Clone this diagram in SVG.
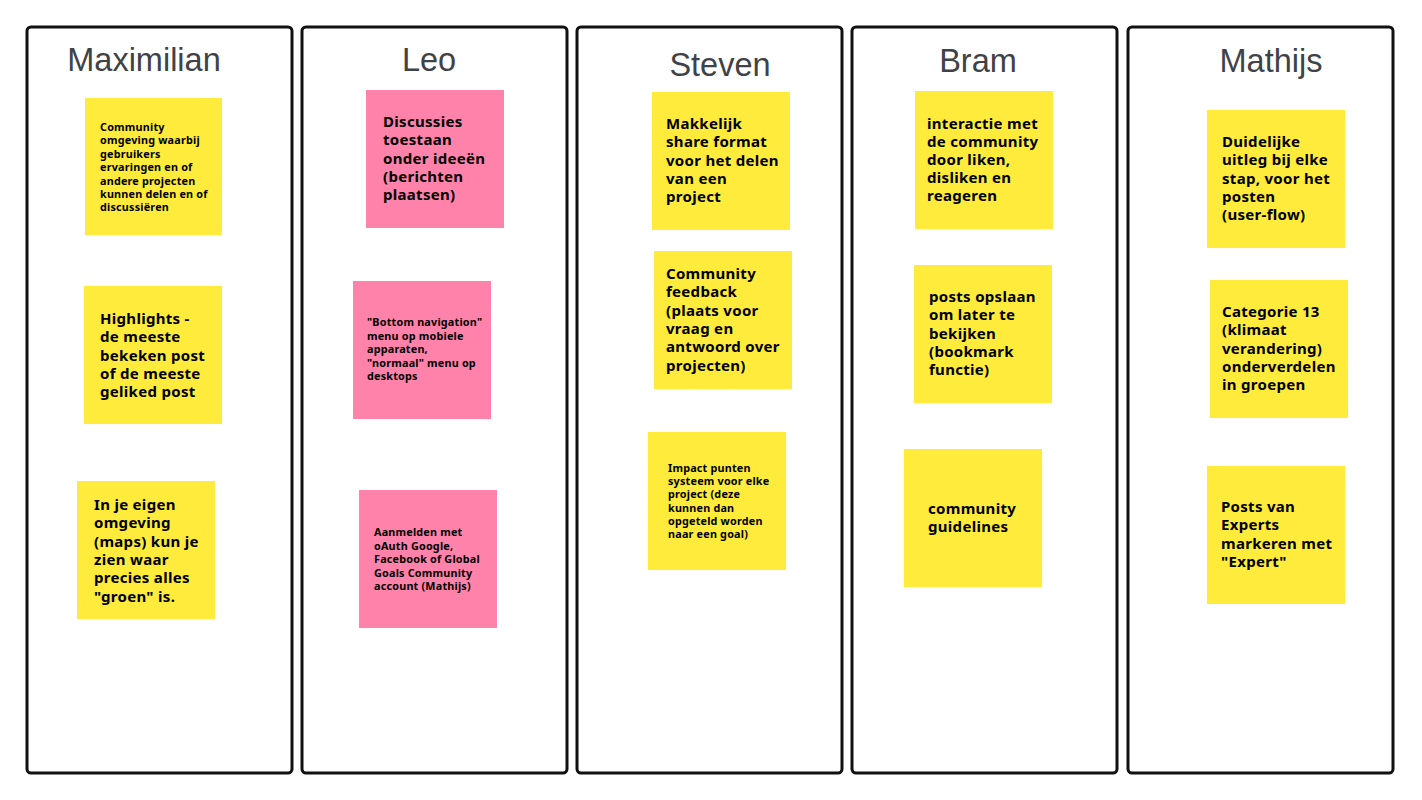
<svg xmlns="http://www.w3.org/2000/svg" width="1422" height="800" viewBox="0 0 1422 800">
<style>
.col{fill:#fff;stroke:#111;stroke-width:3}
.ttl{font-family:"Liberation Sans",Arial,sans-serif;font-size:32.5px;fill:#3f4246;text-anchor:middle}
.y{fill:#ffeb3b}
.p{fill:#ff82aa}
.t{font-family:"Noto Sans","DejaVu Sans",sans-serif;font-weight:bold;font-size:15px;letter-spacing:0.3px;fill:#000}
.s{font-family:"Noto Sans","DejaVu Sans",sans-serif;font-weight:bold;font-size:10.8px;letter-spacing:0.2px;fill:#000}
</style>
<rect width="1422" height="800" fill="#fff"/>
<g id="col-maximilian">
<rect class="col" x="27" y="27" width="265" height="746" rx="4"/>
<text class="ttl" x="144" y="71">Maximilian</text>
</g>
<g id="col-leo">
<rect class="col" x="302" y="27" width="265" height="746" rx="4"/>
<text class="ttl" x="429" y="71">Leo</text>
</g>
<g id="col-steven">
<rect class="col" x="577" y="27" width="265" height="746" rx="4"/>
<text class="ttl" x="720" y="76">Steven</text>
</g>
<g id="col-bram">
<rect class="col" x="852" y="27" width="265" height="746" rx="4"/>
<text class="ttl" x="978" y="72">Bram</text>
</g>
<g id="col-mathijs">
<rect class="col" x="1128" y="27" width="265" height="746" rx="4"/>
<text class="ttl" x="1271" y="72">Mathijs</text>
</g>

<g id="note-max-1">
<rect class="y" x="85" y="98" width="137" height="137"/>
<text class="s"><tspan x="100" y="131">Community</tspan><tspan x="100" y="144.4">omgeving waarbij</tspan><tspan x="100" y="157.8">gebruikers</tspan><tspan x="100" y="171.2">ervaringen en of</tspan><tspan x="100" y="184.6">andere projecten</tspan><tspan x="100" y="198">kunnen delen en of</tspan><tspan x="100" y="211.4">discussiëren</tspan></text>
</g>
<g id="note-max-2">
<rect class="y" x="84" y="286" width="138" height="138"/>
<text class="t"><tspan x="100" y="324">Highlights -</tspan><tspan x="100" y="342.3">de meeste</tspan><tspan x="100" y="360.6">bekeken post</tspan><tspan x="100" y="378.9">of de meeste</tspan><tspan x="100" y="397.2">geliked post</tspan></text>
</g>
<g id="note-max-3">
<rect class="y" x="77" y="481" width="138" height="138"/>
<text class="t"><tspan x="94" y="510">In je eigen</tspan><tspan x="94" y="528.3">omgeving</tspan><tspan x="94" y="546.6">(maps) kun je</tspan><tspan x="94" y="564.9">zien waar</tspan><tspan x="94" y="583.2">precies alles</tspan><tspan x="94" y="601.5">"groen" is.</tspan></text>
</g>

<g id="note-leo-1">
<rect class="p" x="366" y="90" width="138" height="138"/>
<text class="t"><tspan x="383" y="127">Discussies</tspan><tspan x="383" y="145.3">toestaan</tspan><tspan x="383" y="163.6">onder ideeën</tspan><tspan x="383" y="181.9">(berichten</tspan><tspan x="383" y="200.2">plaatsen)</tspan></text>
</g>
<g id="note-leo-2">
<rect class="p" x="353" y="281" width="138" height="138"/>
<text class="s"><tspan x="367" y="326">"Bottom navigation"</tspan><tspan x="367" y="339.5">menu op mobiele</tspan><tspan x="367" y="353">apparaten,</tspan><tspan x="367" y="366.5">"normaal" menu op</tspan><tspan x="367" y="380">desktops</tspan></text>
</g>
<g id="note-leo-3">
<rect class="p" x="359" y="490" width="138" height="138"/>
<text class="s"><tspan x="374" y="536">Aanmelden met</tspan><tspan x="374" y="549.5">oAuth Google,</tspan><tspan x="374" y="563">Facebook of Global</tspan><tspan x="374" y="576.5">Goals Community</tspan><tspan x="374" y="590">account (Mathijs)</tspan></text>
</g>

<g id="note-steven-1">
<rect class="y" x="652" y="92" width="138" height="138"/>
<text class="t"><tspan x="666" y="129">Makkelijk</tspan><tspan x="666" y="147.3">share format</tspan><tspan x="666" y="165.6">voor het delen</tspan><tspan x="666" y="183.9">van een</tspan><tspan x="666" y="202.2">project</tspan></text>
</g>
<g id="note-steven-2">
<rect class="y" x="654" y="251" width="138" height="138"/>
<text class="t"><tspan x="666" y="279">Community</tspan><tspan x="666" y="297.3">feedback</tspan><tspan x="666" y="315.6">(plaats voor</tspan><tspan x="666" y="333.9">vraag en</tspan><tspan x="666" y="352.2">antwoord over</tspan><tspan x="666" y="370.5">projecten)</tspan></text>
</g>
<g id="note-steven-3">
<rect class="y" x="648" y="432" width="138" height="138"/>
<text class="s"><tspan x="668" y="472">Impact punten</tspan><tspan x="668" y="485.2">systeem voor elke</tspan><tspan x="668" y="498.4">project (deze</tspan><tspan x="668" y="511.6">kunnen dan</tspan><tspan x="668" y="524.8">opgeteld worden</tspan><tspan x="668" y="538">naar een goal)</tspan></text>
</g>

<g id="note-bram-1">
<rect class="y" x="915" y="91" width="138" height="138"/>
<text class="t"><tspan x="927" y="129">interactie met</tspan><tspan x="927" y="147">de community</tspan><tspan x="927" y="165">door liken,</tspan><tspan x="927" y="183">disliken en</tspan><tspan x="927" y="201">reageren</tspan></text>
</g>
<g id="note-bram-2">
<rect class="y" x="914" y="265" width="138" height="138"/>
<text class="t"><tspan x="929" y="302">posts opslaan</tspan><tspan x="929" y="320.3">om later te</tspan><tspan x="929" y="338.6">bekijken</tspan><tspan x="929" y="356.9">(bookmark</tspan><tspan x="929" y="375.2">functie)</tspan></text>
</g>
<g id="note-bram-3">
<rect class="y" x="904" y="449" width="138" height="138"/>
<text class="t"><tspan x="928" y="514">community</tspan><tspan x="928" y="532.3">guidelines</tspan></text>
</g>

<g id="note-mathijs-1">
<rect class="y" x="1207" y="110" width="138" height="138"/>
<text class="t"><tspan x="1222" y="147">Duidelijke</tspan><tspan x="1222" y="165.3">uitleg bij elke</tspan><tspan x="1222" y="183.6">stap, voor het</tspan><tspan x="1222" y="201.9">posten</tspan><tspan x="1222" y="220.2">(user-flow)</tspan></text>
</g>
<g id="note-mathijs-2">
<rect class="y" x="1210" y="280" width="138" height="138"/>
<text class="t"><tspan x="1222" y="317">Categorie 13</tspan><tspan x="1222" y="335.3">(klimaat</tspan><tspan x="1222" y="353.6">verandering)</tspan><tspan x="1222" y="371.9">onderverdelen</tspan><tspan x="1222" y="390.2">in groepen</tspan></text>
</g>
<g id="note-mathijs-3">
<rect class="y" x="1207" y="466" width="138" height="138"/>
<text class="t"><tspan x="1221" y="512">Posts van</tspan><tspan x="1221" y="530.3">Experts</tspan><tspan x="1221" y="548.6">markeren met</tspan><tspan x="1221" y="566.9">"Expert"</tspan></text>
</g>
<g id="connectors"/>
</svg>
